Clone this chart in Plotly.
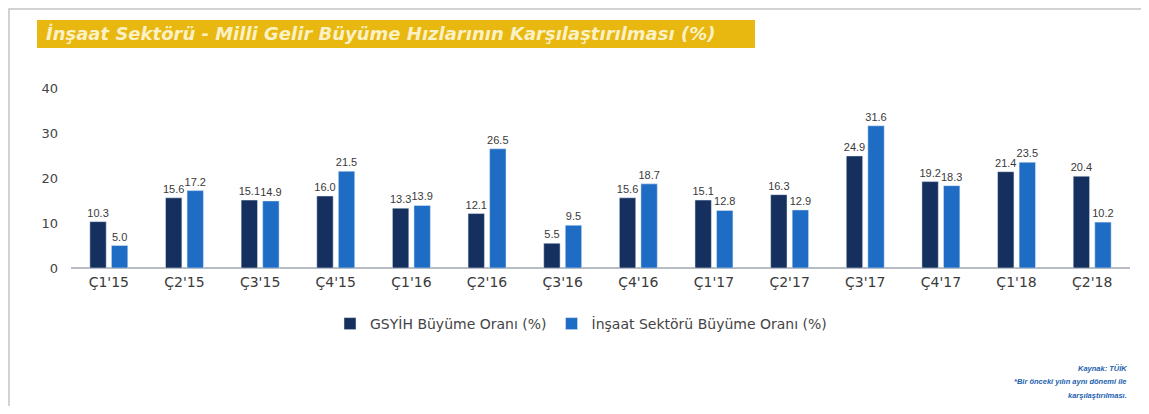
import plotly.graph_objects as go

categories = ["Ç1'15", "Ç2'15", "Ç3'15", "Ç4'15", "Ç1'16", "Ç2'16", "Ç3'16",
              "Ç4'16", "Ç1'17", "Ç2'17", "Ç3'17", "Ç4'17", "Ç1'18", "Ç2'18"]
gsyih = [10.3, 15.6, 15.1, 16.0, 13.3, 12.1, 5.5, 15.6, 15.1, 16.3, 24.9, 19.2, 21.4, 20.4]
insaat = [5.0, 17.2, 14.9, 21.5, 13.9, 26.5, 9.5, 18.7, 12.8, 12.9, 31.6, 18.3, 23.5, 10.2]
y_ticks = [0, 10, 20, 30, 40]

title_text = "İnşaat Sektörü - Milli Gelir Büyüme Hızlarının Karşılaştırılması (%)"
series_names = ["GSYİH Büyüme Oranı (%)", "İnşaat Sektörü Büyüme Oranı (%)"]
note_lines = ["Kaynak: TÜİK", "*Bir önceki yılın aynı dönemi ile", "karşılaştırılması."]

# page is rendered with an 8px body margin, so the figure is 16px smaller
OFF = 8
W, H = 1149 - 2 * OFF, 414 - 2 * OFF
L, T = 71 - OFF, 88 - OFF
PW, PH = 1059, 180
R = W - L - PW
B = H - T - PH

def px(xpage):
    return (xpage - OFF - L) / PW

def py(ypage):
    return (T + PH - (ypage - OFF)) / PH

FONT = "DejaVu Sans, Liberation Sans, Arial, sans-serif"

fig = go.Figure()
fig.add_trace(go.Bar(
    x=categories, y=gsyih, name=series_names[0],
    marker_color="#15305e",
    text=[f"{v:.1f}" for v in gsyih], textposition="outside",
    textfont=dict(size=11, color="#3a3a3a", family="Liberation Sans, Arial"), cliponaxis=False,
))
fig.add_trace(go.Bar(
    x=categories, y=insaat, name=series_names[1],
    marker_color="#1f6cc4",
    text=[f"{v:.1f}" for v in insaat], textposition="outside",
    textfont=dict(size=11, color="#3a3a3a", family="Liberation Sans, Arial"), cliponaxis=False,
))

fig.update_layout(
    width=W, height=H,
    margin=dict(l=L, r=R, t=T, b=B, autoexpand=False),
    paper_bgcolor="white", plot_bgcolor="white",
    font=dict(family=FONT, color="#3a3a3a"),
    barmode="group", bargap=0.43, bargroupgap=0.24,
    showlegend=True,
    legend=dict(orientation="h", x=px(581), xanchor="center", y=py(324), yanchor="middle",
                font=dict(size=14, color="#444"), itemwidth=30,
                traceorder="normal", bgcolor="rgba(0,0,0,0)"),
    uniformtext=dict(minsize=10, mode="show"),
)
fig.update_xaxes(showgrid=False, showline=False, ticks="", tickfont=dict(size=14, color="#3a3a3a"),
                 ticklabelstandoff=4)
fig.update_yaxes(range=[0, 40], tickvals=y_ticks, showgrid=False, zeroline=True,
                 zerolinecolor="#b8bcc4", zerolinewidth=1.5, showline=False,
                 tickfont=dict(size=13, color="#444"), ticklabelstandoff=12)

# outer frame
fig.add_shape(type="rect", xref="paper", yref="paper",
              x0=px(9), x1=px(1143), y0=py(407), y1=py(9),
              line=dict(color="#c4c4c4", width=1.5), fillcolor="rgba(0,0,0,0)", layer="below")
# title band
fig.add_shape(type="rect", xref="paper", yref="paper",
              x0=px(37), x1=px(755), y0=py(48), y1=py(20),
              fillcolor="#e8b710", line=dict(width=0), layer="below")
fig.add_annotation(xref="paper", yref="paper", x=px(44), y=py(34), xanchor="left", yanchor="middle",
                   text=f"<b><i>{title_text}</i></b>", showarrow=False,
                   font=dict(size=18, color="#fbf1c4", family=FONT))
# source notes
for i, line in enumerate(note_lines):
    fig.add_annotation(xref="paper", yref="paper", x=px(1129), y=py(368 + 13.5 * i),
                       xanchor="right", yanchor="middle", text=f"<b><i>{line}</i></b>",
                       showarrow=False, font=dict(size=7.5, color="#1d5fae",
                                                  family="Liberation Sans, Arial"))

fig.write_html("out.html")
